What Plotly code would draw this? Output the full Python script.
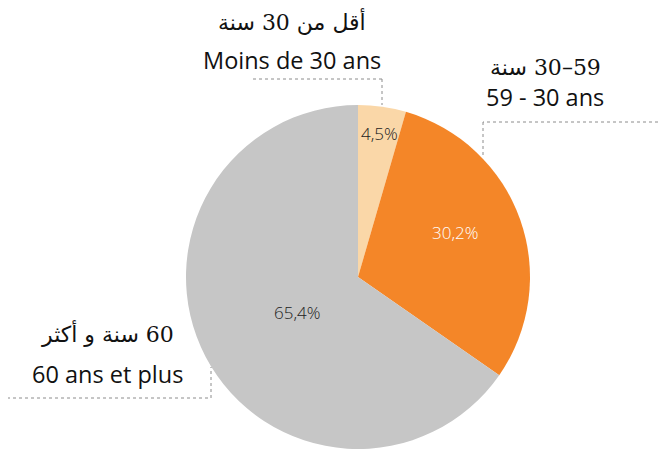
import plotly.graph_objects as go

W, H = 668, 450
OFF = 8  # page body margin

RLE, PDF = "\u202b", "\u202c"

groups_ar = ["أقل من 30 سنة", "59–30 سنة", "60 سنة و أكثر"]
groups_fr = ["Moins de 30 ans", "59 - 30 ans", "60 ans et plus"]
shares = [4.5, 30.2, 65.4]
colors = ["#FAD7A8", "#F48628", "#C6C6C6"]
pct_colors = ["#222222", "#FFFFFF", "#222222"]

LABEL_FONT = "'Open Sans', Lato, sans-serif"
AR_FONT = "'DejaVu Serif', 'DejaVu Sans', serif"


def px_x(x):
    return (x - OFF) / W


def px_y(y):
    return 1 - (y - OFF) / H


fig = go.Figure(go.Pie(
    labels=groups_fr, values=shares,
    sort=False, direction="clockwise", rotation=0,
    marker=dict(colors=colors, line=dict(width=0)),
    textinfo="none",
    domain=dict(x=[px_x(186), px_x(530)], y=[px_y(449), px_y(105)]),
    hoverinfo="label+value",
))

annotations = []

# percentage labels inside the slices
pct_pos = [(380, 133), (455, 232), (297, 312)]
for v, c, (x, y) in zip(shares, pct_colors, pct_pos):
    annotations.append(dict(text=f"{v:.1f}%".replace(".", ","), x=px_x(x), y=px_y(y),
                            xref="paper", yref="paper", showarrow=False,
                            xanchor="center", yanchor="middle",
                            font=dict(size=17, color=c, family="'Open Sans', sans-serif",
                                      weight=300)))

# outside labels: (center x, arabic line y, french line y)
label_pos = [(292, 22, 60), (545, 68, 97), (107, 333, 374)]
for ar, fr, (cx, y1, y2) in zip(groups_ar, groups_fr, label_pos):
    annotations.append(dict(text=RLE + ar + PDF, x=px_x(cx), y=px_y(y1),
                            xref="paper", yref="paper",
                            showarrow=False, xanchor="center", yanchor="middle",
                            font=dict(size=22, color="#111", family=AR_FONT)))
    annotations.append(dict(text=fr, x=px_x(cx), y=px_y(y2), xref="paper", yref="paper",
                            showarrow=False, xanchor="center", yanchor="middle",
                            font=dict(size=23.5, color="#111", family=LABEL_FONT)))

# dotted leader lines
leaders = [
    [(253, 79), (382, 79), (382, 105)],
    [(676, 122), (483, 122), (483, 155)],
    [(7, 398), (211, 398), (211, 367)],
]
shapes = []
for pts in leaders:
    for (x0, y0), (x1, y1) in zip(pts[:-1], pts[1:]):
        shapes.append(dict(type="line", xref="paper", yref="paper",
                           x0=px_x(x0), y0=px_y(y0), x1=px_x(x1), y1=px_y(y1),
                           line=dict(color="#8c8c8c", width=1, dash="dot")))

fig.update_layout(
    width=W, height=H, margin=dict(l=0, r=0, t=0, b=0),
    paper_bgcolor="white", plot_bgcolor="white",
    showlegend=False,
    annotations=annotations, shapes=shapes,
)

fig.write_html("out.html")
